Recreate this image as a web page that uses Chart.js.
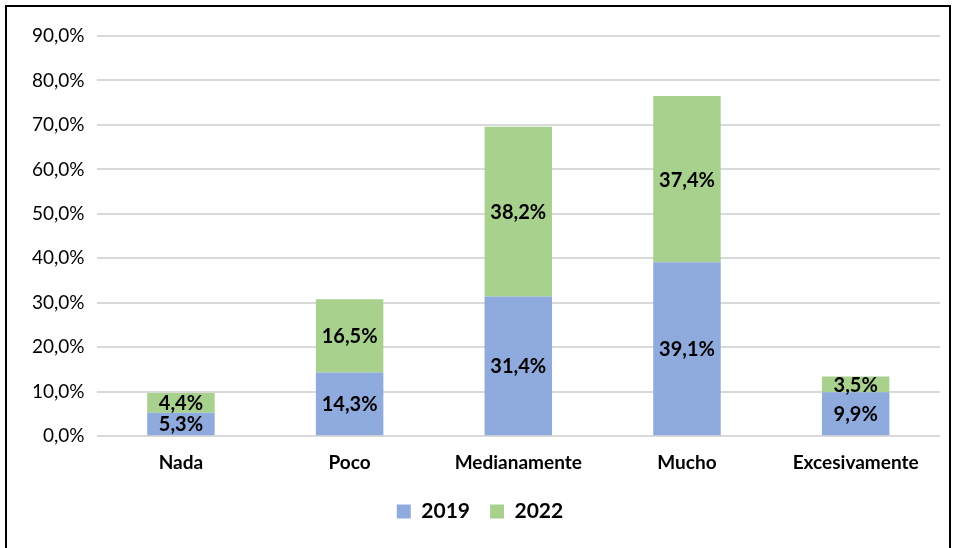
<!DOCTYPE html>
<html>
<head>
<meta charset="utf-8">
<script src="https://cdn.jsdelivr.net/npm/chart.js@4"></script>
<style>
  body { margin: 0; background: #fff; }
  #wrap { position: relative; width: 956px; height: 548px; }
  #frame { position: absolute; left: 5px; top: 5px; width: 946px; height: 560px; border: 2px solid #000; box-sizing: border-box; }
  canvas { position: absolute; left: 0; top: 0; }
</style>
</head>
<body>
<div id="wrap">
  <canvas id="chart" width="956" height="548"></canvas>
  <div id="frame"></div>
</div>
<script>
// Datos
const categorias = ['Nada', 'Poco', 'Medianamente', 'Mucho', 'Excesivamente'];
const valores2019 = [5.3, 14.3, 31.4, 39.1, 9.9];
const valores2022 = [4.4, 16.5, 38.2, 37.4, 3.5];
const etiquetasSerie = ['2019', '2022'];

const fmt = v => v.toFixed(1).replace('.', ',') + '%';
const fuente = 'Lato, "Open Sans", sans-serif';

// Etiquetas de datos centradas en cada segmento
const etiquetasPlugin = {
  id: 'etiquetas',
  afterDatasetsDraw(chart) {
    const ctx = chart.ctx;
    ctx.save();
    ctx.font = 'bold 20px ' + fuente;
    ctx.fillStyle = '#000';
    ctx.textAlign = 'center';
    ctx.textBaseline = 'middle';
    chart.data.datasets.forEach((ds, i) => {
      chart.getDatasetMeta(i).data.forEach((bar, j) => {
        const y = (bar.y + bar.base) / 2;
        ctx.fillText(fmt(ds.data[j]), bar.x, y + 1);
      });
    });
    ctx.restore();
  }
};

new Chart(document.getElementById('chart'), {
  type: 'bar',
  data: {
    labels: categorias,
    datasets: [
      { label: etiquetasSerie[0], data: valores2019, backgroundColor: '#8faadc' },
      { label: etiquetasSerie[1], data: valores2022, backgroundColor: '#a9d18e' }
    ]
  },
  options: {
    responsive: false,
    animation: false,
    layout: { padding: { left: 20, right: 16, top: 36, bottom: 16 } },
    datasets: { bar: { categoryPercentage: 1, barPercentage: 0.4 } },
    scales: {
      x: {
        stacked: true,
        grid: { display: false },
        border: { display: false },
        ticks: { color: '#000', font: { family: fuente, size: 19, weight: 'bold' }, padding: 7 }
      },
      y: {
        stacked: true,
        min: 0,
        max: 90,
        grid: { color: '#d9d9d9', lineWidth: 2, drawTicks: false },
        border: { display: false },
        ticks: {
          stepSize: 10,
          color: '#000',
          padding: 12,
          font: { family: fuente, size: 19 },
          callback: v => fmt(v)
        }
      }
    },
    plugins: {
      legend: {
        position: 'bottom',
        labels: {
          color: '#000',
          font: { family: fuente, size: 21, weight: 'bold' },
          boxWidth: 14,
          boxHeight: 14,
          padding: 20
        }
      },
      tooltip: { enabled: false }
    }
  },
  plugins: [etiquetasPlugin]
});
</script>
</body>
</html>
